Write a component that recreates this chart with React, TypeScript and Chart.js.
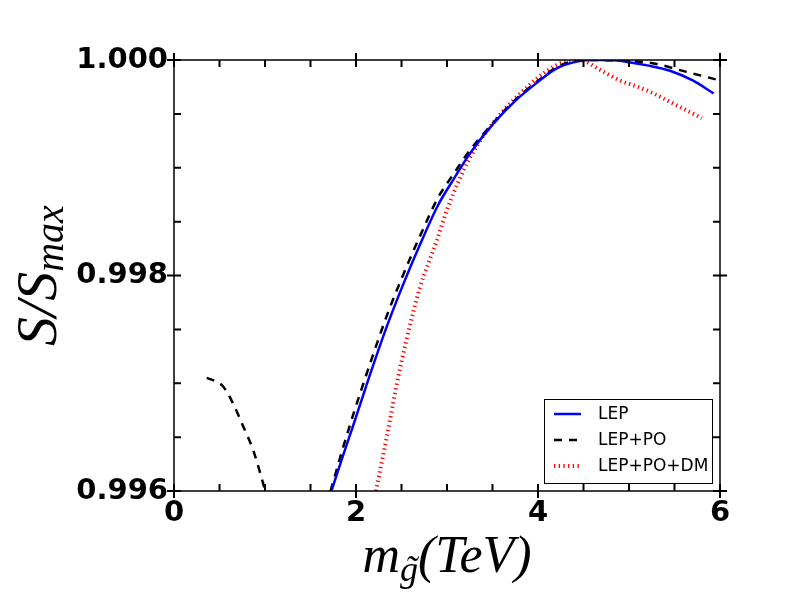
import { useEffect, useRef } from 'react';
import { Chart, registerables } from 'chart.js';

Chart.register(...registerables);

// LEP (solid blue)
const lepX = [1.73, 1.85, 1.97, 2.15, 2.34, 2.52, 2.70, 2.90, 3.07, 3.25, 3.50, 3.75, 3.99, 4.20, 4.40, 4.55, 4.80, 5.00, 5.20, 5.45, 5.70, 5.93];
const lepY = [0.99600, 0.99631, 0.99661, 0.99707, 0.99753, 0.99792, 0.99828, 0.99865, 0.99889, 0.99913, 0.99940, 0.99962, 0.99979, 0.99992, 0.99998, 1.00000, 1.00000, 0.99998, 0.99995, 0.99990, 0.99981, 0.99969];

// LEP+PO (dashed black) - two visible pieces, it dips below the axis in between
const poLowX = [0.36, 0.45, 0.54, 0.65, 0.76, 0.87, 1.01];
const poLowY = [0.99705, 0.99702, 0.99697, 0.99681, 0.99660, 0.99638, 0.99598];
const poX = [1.72, 1.85, 1.97, 2.15, 2.34, 2.52, 2.70, 2.90, 3.07, 3.25, 3.50, 3.75, 3.99, 4.20, 4.40, 4.60, 4.97, 5.26, 5.63, 6.00];
const poY = [0.99600, 0.99638, 0.99671, 0.99717, 0.99763, 0.99801, 0.99836, 0.99872, 0.99894, 0.99916, 0.99941, 0.99963, 0.99980, 0.99993, 0.99999, 1.00000, 0.99999, 0.99997, 0.99989, 0.99981];

// LEP+PO+DM (dotted red)
const dmX = [2.22, 2.34, 2.45, 2.56, 2.70, 2.89, 3.00, 3.25, 3.55, 3.91, 4.10, 4.28, 4.45, 4.70, 4.90, 5.10, 5.27, 5.50, 5.80];
const dmY = [0.99600, 0.99651, 0.99700, 0.99742, 0.99788, 0.99833, 0.99861, 0.99909, 0.99946, 0.99977, 0.99990, 0.99998, 1.00000, 0.99990, 0.99981, 0.99975, 0.99969, 0.99959, 0.99946];

const seriesNames = ['LEP', 'LEP+PO', 'LEP+PO+DM'];

const xMajor = [0, 2, 4, 6];
const xMinor = [0.5, 1, 1.5, 2.5, 3, 3.5, 4.5, 5, 5.5];
const yMajor = [0.996, 0.998, 1.0];
const yMinor = [0.9965, 0.997, 0.9975, 0.9985, 0.999, 0.9995];

const toPoints = (xs: number[], ys: number[]) => xs.map((x, i) => ({ x, y: ys[i] }));

// matplotlib-like ticks (inside, majors cross the frame) and the box
const framePlugin = {
  id: 'frame',
  afterDatasetsDraw(chart: any) {
    const { ctx, chartArea: a, scales } = chart;
    const xs = scales.x;
    const ys = scales.y;
    ctx.save();
    ctx.strokeStyle = '#000';
    ctx.lineWidth = 1.5;
    ctx.strokeRect(a.left, a.top, a.right - a.left, a.bottom - a.top);
    ctx.lineWidth = 2;
    ctx.beginPath();
    const tin = 7;
    const tout = 7;
    xMinor.forEach((v) => {
      const p = xs.getPixelForValue(v);
      ctx.moveTo(p, a.bottom); ctx.lineTo(p, a.bottom - tin);
      ctx.moveTo(p, a.top); ctx.lineTo(p, a.top + tin);
    });
    xMajor.forEach((v) => {
      const p = xs.getPixelForValue(v);
      ctx.moveTo(p, a.bottom + tout); ctx.lineTo(p, a.bottom - tin);
      ctx.moveTo(p, a.top - tout); ctx.lineTo(p, a.top + tin);
    });
    yMinor.forEach((v) => {
      const p = ys.getPixelForValue(v);
      ctx.moveTo(a.left, p); ctx.lineTo(a.left + tin, p);
      ctx.moveTo(a.right, p); ctx.lineTo(a.right - tin, p);
    });
    yMajor.forEach((v) => {
      const p = ys.getPixelForValue(v);
      ctx.moveTo(a.left - tout, p); ctx.lineTo(a.left + tin, p);
      ctx.moveTo(a.right + tout, p); ctx.lineTo(a.right - tin, p);
    });
    ctx.stroke();
    ctx.restore();
  },
};

const legendPlugin = {
  id: 'boxLegend',
  afterDraw(chart: any) {
    const { ctx, chartArea: a } = chart;
    const w = 168;
    const h = 84;
    const left = a.right - 8 - w;
    const top = a.bottom - 8 - h;
    ctx.save();
    ctx.fillStyle = '#fff';
    ctx.fillRect(left, top, w, h);
    ctx.strokeStyle = '#000';
    ctx.lineWidth = 1;
    ctx.strokeRect(left + 0.5, top + 0.5, w, h);
    ctx.font = '17px "DejaVu Sans"';
    ctx.textBaseline = 'middle';
    ctx.textAlign = 'left';
    chart.data.datasets.forEach((ds: any, i: number) => {
      const yy = top + 15 + i * 26;
      ctx.strokeStyle = ds.borderColor;
      ctx.lineWidth = ds.borderWidth;
      ctx.setLineDash(ds.borderDash || []);
      ctx.beginPath();
      ctx.moveTo(left + 10, yy);
      ctx.lineTo(left + 37, yy);
      ctx.stroke();
      ctx.setLineDash([]);
      ctx.fillStyle = '#000';
      ctx.fillText(ds.label, left + 54, yy + 1);
    });
    ctx.restore();
  },
};

type Piece = { t: string; font: string; dy: number; tilde?: boolean };

const drawPieces = (ctx: CanvasRenderingContext2D, pieces: Piece[], cx: number, base: number) => {
  let total = 0;
  const widths = pieces.map((p) => {
    ctx.font = p.font;
    const m = ctx.measureText(p.t).width;
    total += m;
    return m;
  });
  let x = cx - total / 2;
  pieces.forEach((p, i) => {
    ctx.font = p.font;
    ctx.fillText(p.t, x, base + p.dy);
    if (p.tilde) {
      const tw = ctx.measureText('\u02DC').width;
      ctx.fillText('\u02DC', x + widths[i] / 2 - tw / 2 + 2, base + p.dy);
    }
    x += widths[i];
  });
};

const titlesPlugin = {
  id: 'mathTitles',
  afterDraw(chart: any) {
    const { ctx, chartArea: a } = chart;
    ctx.save();
    ctx.fillStyle = '#000';
    ctx.textBaseline = 'alphabetic';
    ctx.textAlign = 'left';
    const serif = '"Liberation Serif", "DejaVu Serif", serif';
    drawPieces(ctx, [
      { t: 'm', font: `italic 52px ${serif}`, dy: 0 },
      { t: 'g', font: `italic 36px ${serif}`, dy: 9, tilde: true },
      { t: '(TeV)', font: `italic 52px ${serif}`, dy: 0 },
    ], (a.left + a.right) / 2, 572);
    ctx.translate(56, (a.top + a.bottom) / 2);
    ctx.rotate(-Math.PI / 2);
    drawPieces(ctx, [
      { t: 'S/S', font: `italic 58px ${serif}`, dy: 0 },
      { t: 'max', font: `italic 40px ${serif}`, dy: 7 },
    ], 0, 0);
    ctx.restore();
  },
};

const tickFont = { family: '"DejaVu Sans"', size: 29, weight: 'bold' as const };

const App = () => {
  const canvasRef = useRef<HTMLCanvasElement>(null);
  const chartRef = useRef<Chart | null>(null);

  useEffect(() => {
    if (!canvasRef.current) return;
    if (chartRef.current) chartRef.current.destroy();
    const ctx = canvasRef.current.getContext('2d');
    if (!ctx) return;

    const poData: any[] = [...toPoints(poLowX, poLowY), { x: 1.36, y: null }, ...toPoints(poX, poY)];

    chartRef.current = new Chart(ctx, {
      type: 'line',
      data: {
        datasets: [
          {
            label: seriesNames[0],
            data: toPoints(lepX, lepY),
            borderColor: '#0000ff',
            borderWidth: 2.5,
            pointRadius: 0,
            cubicInterpolationMode: 'monotone',
          },
          {
            label: seriesNames[1],
            data: poData,
            borderColor: '#000000',
            borderWidth: 2.5,
            borderDash: [8, 7],
            pointRadius: 0,
            spanGaps: false,
            cubicInterpolationMode: 'monotone',
          },
          {
            label: seriesNames[2],
            data: toPoints(dmX, dmY),
            borderColor: '#ff0000',
            borderWidth: 4,
            borderDash: [1.3, 3.4],
            pointRadius: 0,
            cubicInterpolationMode: 'monotone',
          },
        ],
      },
      options: {
        responsive: false,
        animation: false,
        devicePixelRatio: 1,
        layout: { padding: { top: 60, right: 80, left: 0, bottom: 0 } },
        plugins: {
          legend: { display: false },
          tooltip: { enabled: false },
        },
        scales: {
          x: {
            type: 'linear',
            min: 0,
            max: 6,
            grid: { display: false, drawTicks: false },
            border: { display: false },
            ticks: { stepSize: 2, font: tickFont, color: '#000', padding: 5, maxRotation: 0 },
            afterFit: (s: any) => { s.height = 109; },
          },
          y: {
            type: 'linear',
            min: 0.996,
            max: 1.0,
            grid: { display: false, drawTicks: false },
            border: { display: false },
            ticks: {
              stepSize: 0.002,
              font: tickFont,
              color: '#000',
              padding: 6,
              callback: (v: any) => Number(v).toFixed(3),
            },
            afterFit: (s: any) => { s.width = 174; },
          },
        },
      },
      plugins: [framePlugin, legendPlugin, titlesPlugin],
    });

    return () => {
      if (chartRef.current) {
        chartRef.current.destroy();
        chartRef.current = null;
      }
    };
  }, []);

  return (
    <div style={{ position: 'fixed', left: 0, top: 0, width: 800, height: 600, background: '#fff' }}>
      <canvas ref={canvasRef} width={800} height={600} />
    </div>
  );
};

export default App;
